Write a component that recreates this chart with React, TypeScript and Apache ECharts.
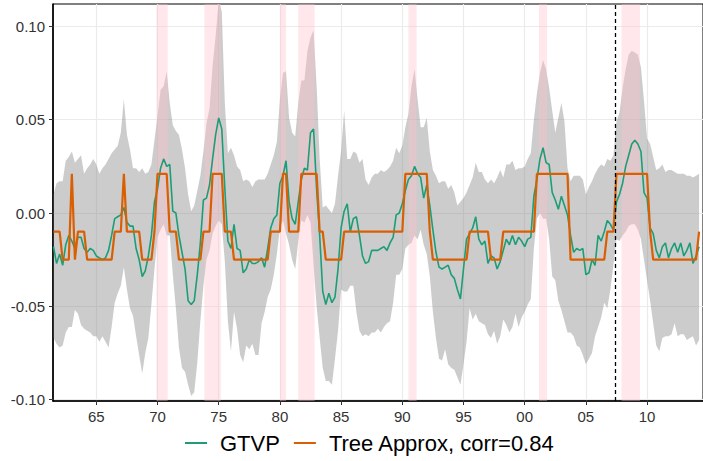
import React, { useEffect, useRef } from "react";
import * as echarts from "echarts";

// Quarterly series, first observation 1961Q3, step one quarter
const START_YEAR = 1961.5;
const STEP = 0.25;

const gtvp = [
  -0.018, -0.027, -0.022, -0.028, -0.017, -0.012, -0.015, -0.019, -0.013, -0.013,
  -0.019, -0.021, -0.019, -0.020, -0.023, -0.024, -0.025, -0.024, -0.020, -0.012,
  -0.003, -0.002, -0.001, 0.003, -0.005, -0.007, -0.007, -0.019, -0.025, -0.034,
  -0.031, -0.023, -0.012, 0.006, 0.013, 0.024, 0.029, 0.025, 0.026, 0.001,
  0.000, -0.012, -0.021, -0.030, -0.047, -0.049, -0.047, -0.033, -0.016, 0.007,
  0.008, 0.015, 0.029, 0.042, 0.051, 0.045, 0.013, -0.015, -0.019, -0.006,
  -0.019, -0.020, -0.032, -0.030, -0.025, -0.027, -0.027, -0.026, -0.024, -0.029,
  -0.019, -0.008, -0.003, -0.001, 0.016, 0.020, 0.028, 0.006, -0.003, -0.006,
  0.006, 0.018, 0.024, 0.023, 0.043, 0.045, 0.013, -0.012, -0.042, -0.049,
  -0.043, -0.048, -0.045, -0.030, -0.008, 0.001, 0.005, -0.010, -0.003, -0.002,
  -0.012, -0.023, -0.027, -0.026, -0.020, -0.020, -0.020, -0.019, -0.018, -0.020,
  -0.016, -0.013, -0.001, 0.000, 0.005, 0.012, 0.018, 0.020, 0.025, 0.021,
  0.019, 0.008, 0.015, 0.004, -0.009, -0.021, -0.029, -0.030, -0.029, -0.028,
  -0.033, -0.035, -0.041, -0.046, -0.030, -0.014, -0.011, -0.008, -0.002, -0.014,
  -0.017, -0.015, -0.027, -0.023, -0.024, -0.030, -0.026, -0.020, -0.014, -0.017,
  -0.012, -0.017, -0.013, -0.015, -0.018, -0.014, -0.013, 0.009, 0.018, 0.029,
  0.035, 0.027, 0.026, 0.011, 0.007, 0.002, 0.009, 0.004, -0.001, -0.012,
  -0.021, -0.019, -0.020, -0.019, -0.033, -0.032, -0.025, -0.028, -0.012, -0.015,
  -0.010, -0.004, -0.006, -0.009, 0.006, 0.010, 0.016, 0.025, 0.031, 0.037,
  0.039, 0.037, 0.033, 0.011, 0.008, -0.008, -0.011, -0.020, -0.024, -0.018,
  -0.016, -0.024, -0.019, -0.016, -0.021, -0.016, -0.023, -0.020, -0.016, -0.027,
  -0.023, -0.018,
];

const treeApprox = [
  -0.010, -0.010, -0.010, -0.025, -0.025, -0.025, 0.021, -0.025, -0.010, -0.010,
  -0.010, -0.025, -0.025, -0.025, -0.025, -0.025, -0.025, -0.025, -0.025, -0.025,
  -0.010, -0.010, -0.010, 0.021, -0.010, -0.010, -0.010, -0.010, -0.010, -0.025,
  -0.025, -0.025, -0.025, -0.010, 0.021, 0.021, 0.021, 0.021, -0.010, -0.010,
  -0.010, -0.025, -0.025, -0.025, -0.025, -0.025, -0.025, -0.025, -0.025, -0.010,
  -0.010, -0.010, 0.021, 0.021, 0.021, 0.021, -0.010, -0.010, -0.010, -0.025,
  -0.025, -0.025, -0.025, -0.025, -0.025, -0.025, -0.025, -0.025, -0.025, -0.025,
  -0.025, -0.010, -0.010, -0.010, -0.010, 0.021, 0.021, -0.010, -0.010, -0.010,
  -0.010, 0.021, 0.021, 0.021, 0.021, 0.021, 0.021, -0.010, -0.010, -0.025,
  -0.025, -0.025, -0.025, -0.025, -0.025, -0.010, -0.010, -0.010, -0.010, -0.010,
  -0.010, -0.010, -0.010, -0.010, -0.010, -0.010, -0.010, -0.010, -0.010, -0.010,
  -0.010, -0.010, -0.010, -0.010, -0.010, 0.021, 0.021, 0.021, 0.021, 0.021,
  0.021, 0.021, 0.021, -0.010, -0.025, -0.025, -0.025, -0.025, -0.025, -0.025,
  -0.025, -0.025, -0.025, -0.025, -0.025, -0.025, -0.010, -0.010, -0.010, -0.010,
  -0.010, -0.010, -0.010, -0.025, -0.025, -0.025, -0.025, -0.010, -0.010, -0.010,
  -0.010, -0.010, -0.010, -0.010, -0.010, -0.010, -0.010, -0.010, 0.021, 0.021,
  0.021, 0.021, 0.021, 0.021, 0.021, 0.021, 0.021, 0.021, 0.021, -0.025,
  -0.025, -0.025, -0.025, -0.025, -0.025, -0.025, -0.025, -0.025, -0.025, -0.025,
  -0.025, -0.010, -0.010, -0.010, 0.021, 0.021, 0.021, 0.021, 0.021, 0.021,
  0.021, 0.021, 0.021, 0.021, 0.021, -0.010, -0.025, -0.025, -0.025, -0.025,
  -0.025, -0.025, -0.025, -0.025, -0.025, -0.025, -0.025, -0.025, -0.025, -0.025,
  -0.025, -0.010,
];

const bandUpper = [
  0.010, 0.016, 0.017, 0.017, 0.028, 0.030, 0.033, 0.027, 0.029, 0.031,
  0.021, 0.024, 0.026, 0.029, 0.026, 0.021, 0.024, 0.026, 0.029, 0.032,
  0.034, 0.036, 0.043, 0.061, 0.042, 0.034, 0.024, 0.024, 0.022, 0.024,
  0.021, 0.022, 0.026, 0.039, 0.052, 0.066, 0.068, 0.076, 0.059, 0.047,
  0.044, 0.042, 0.034, 0.024, 0.010, 0.001, 0.004, 0.012, 0.020, 0.033,
  0.048, 0.056, 0.079, 0.095, 0.114, 0.108, 0.059, 0.032, 0.035, 0.031,
  0.025, 0.023, 0.017, 0.018, 0.017, 0.014, 0.017, 0.018, 0.018, 0.018,
  0.021, 0.026, 0.031, 0.038, 0.061, 0.075, 0.076, 0.051, 0.043, 0.041,
  0.059, 0.071, 0.071, 0.087, 0.094, 0.098, 0.068, 0.029, 0.003, 0.004,
  0.002, 0.000, 0.005, 0.020, 0.033, 0.055, 0.029, 0.029, 0.033, 0.032,
  0.027, 0.029, 0.018, 0.015, 0.019, 0.021, 0.021, 0.023, 0.022, 0.023,
  0.025, 0.028, 0.035, 0.032, 0.036, 0.046, 0.053, 0.068, 0.077, 0.061,
  0.046, 0.046, 0.051, 0.033, 0.023, 0.020, 0.016, 0.017, 0.017, 0.013,
  0.015, 0.011, 0.004, 0.006, 0.008, 0.011, 0.015, 0.019, 0.027, 0.022,
  0.022, 0.018, 0.016, 0.018, 0.016, 0.019, 0.023, 0.019, 0.026, 0.026,
  0.028, 0.023, 0.024, 0.024, 0.025, 0.029, 0.032, 0.050, 0.064, 0.075,
  0.082, 0.077, 0.067, 0.055, 0.043, 0.051, 0.059, 0.049, 0.024, 0.017,
  0.020, 0.020, 0.020, 0.018, 0.010, 0.014, 0.017, 0.021, 0.024, 0.026,
  0.025, 0.029, 0.028, 0.031, 0.049, 0.054, 0.067, 0.077, 0.085, 0.087,
  0.086, 0.085, 0.078, 0.060, 0.040, 0.037, 0.030, 0.023, 0.024, 0.026,
  0.022, 0.023, 0.023, 0.022, 0.021, 0.021, 0.021, 0.020, 0.020, 0.019,
  0.020, 0.021,
];

const bandLower = [
  -0.067, -0.070, -0.072, -0.071, -0.064, -0.061, -0.061, -0.052, -0.054, -0.060,
  -0.062, -0.063, -0.064, -0.066, -0.066, -0.069, -0.066, -0.069, -0.072, -0.061,
  -0.048, -0.043, -0.039, -0.029, -0.041, -0.051, -0.055, -0.066, -0.076, -0.086,
  -0.075, -0.067, -0.049, -0.030, -0.013, -0.009, -0.006, -0.012, -0.012, -0.033,
  -0.051, -0.072, -0.083, -0.085, -0.092, -0.098, -0.096, -0.080, -0.058, -0.039,
  -0.025, -0.020, -0.011, -0.007, -0.004, -0.006, -0.026, -0.058, -0.074, -0.053,
  -0.062, -0.076, -0.080, -0.071, -0.073, -0.070, -0.076, -0.076, -0.059, -0.053,
  -0.045, -0.041, -0.033, -0.022, -0.008, -0.004, -0.011, -0.017, -0.025, -0.030,
  -0.015, -0.004, -0.005, -0.001, -0.005, -0.028, -0.050, -0.067, -0.083, -0.090,
  -0.090, -0.092, -0.078, -0.063, -0.041, -0.042, -0.042, -0.039, -0.039, -0.053,
  -0.063, -0.066, -0.065, -0.066, -0.064, -0.064, -0.062, -0.064, -0.061, -0.059,
  -0.058, -0.048, -0.033, -0.033, -0.030, -0.019, -0.017, -0.016, -0.012, -0.014,
  -0.009, -0.017, -0.022, -0.034, -0.053, -0.067, -0.078, -0.079, -0.073, -0.081,
  -0.083, -0.084, -0.088, -0.092, -0.081, -0.069, -0.051, -0.057, -0.054, -0.058,
  -0.059, -0.060, -0.065, -0.067, -0.063, -0.070, -0.066, -0.057, -0.060, -0.064,
  -0.061, -0.054, -0.061, -0.056, -0.053, -0.049, -0.046, -0.019, -0.003, 0.000,
  -0.003, -0.003, -0.014, -0.034, -0.036, -0.047, -0.052, -0.058, -0.064, -0.064,
  -0.066, -0.071, -0.072, -0.076, -0.081, -0.078, -0.075, -0.066, -0.061, -0.056,
  -0.048, -0.051, -0.041, -0.028, -0.014, -0.015, -0.012, -0.010, -0.007, -0.006,
  -0.006, -0.009, -0.014, -0.025, -0.036, -0.047, -0.059, -0.071, -0.074, -0.067,
  -0.066, -0.066, -0.065, -0.059, -0.066, -0.065, -0.065, -0.068, -0.067, -0.066,
  -0.071, -0.068,
];

// NBER recessions (start, end) in fractional years
const recessionStarts = [1969.92, 1973.83, 1980.0, 1981.5, 1990.5, 2001.17, 2007.92];
const recessionEnds = [1970.83, 1975.17, 1980.5, 1982.83, 1991.17, 2001.83, 2009.42];
const breakYear = 2007.4;

const xTickValues = [1965, 1970, 1975, 1980, 1985, 1990, 1995, 2000, 2005, 2010];
const yTickValues = [-0.1, -0.05, 0, 0.05, 0.1];

const seriesNames = ["GTVP", "Tree Approx, corr=0.84"];

const FONT = "'Liberation Sans', Arial, Helvetica, sans-serif";

export default function App() {
  const ref = useRef<HTMLDivElement>(null);

  useEffect(() => {
    document.body.style.margin = "0";
    if (!ref.current) return;
    const chart = echarts.init(ref.current, undefined, { renderer: "svg" });

    const years = gtvp.map((_, i) => START_YEAR + i * STEP);
    const pair = (arr: number[]) => arr.map((v, i) => [years[i], v]);

    const option: any = {
      animation: false,
      backgroundColor: "#ffffff",
      grid: {
        left: 53,
        right: -5,
        top: 4,
        bottom: 60,
        show: true,
        borderColor: "#000000",
        borderWidth: 1,
        backgroundColor: "transparent",
      },
      xAxis: {
        type: "value",
        min: 1961.46,
        max: 2014.57,
        axisLine: { show: true, onZero: false, lineStyle: { color: "#000000", width: 1.6 } },
        axisTick: { show: true, customValues: xTickValues, length: 4, lineStyle: { color: "#333333", width: 1 } },
        axisLabel: {
          customValues: xTickValues,
          formatter: (v: number) => String(Math.round(v) % 100).padStart(2, "0"),
          fontSize: 15,
          color: "#333333",
          fontFamily: FONT,
          margin: 8,
        },
        splitLine: { show: true, lineStyle: { color: "#ebebeb", width: 1.2 } },
      },
      yAxis: {
        type: "value",
        min: -0.1007,
        max: 0.112,
        axisLine: { show: true, onZero: false, lineStyle: { color: "#000000", width: 1.6 } },
        axisTick: { show: true, customValues: yTickValues, length: 4, lineStyle: { color: "#333333", width: 1 } },
        axisLabel: {
          customValues: yTickValues,
          formatter: (v: number) => v.toFixed(2),
          fontSize: 15,
          color: "#333333",
          fontFamily: FONT,
          margin: 8,
        },
        splitLine: { show: true, lineStyle: { color: "#ebebeb", width: 1.2 } },
      },
      legend: {
        data: seriesNames,
        left: 185,
        top: 432,
        padding: 0,
        icon: "rect",
        itemWidth: 22,
        itemHeight: 2,
        itemGap: 14,
        textStyle: { fontSize: 22, color: "#000000", fontFamily: FONT, padding: [0, 0, 0, 8] },
      },
      series: [
        {
          name: "band",
          type: "custom",
          silent: true,
          clip: true,
          z: 1,
          data: [[years[0], bandLower[0]]],
          encode: { x: 0, y: 1 },
          renderItem: (params: any, api: any) => {
            if (params.dataIndex !== 0) return null;
            const pts: number[][] = [];
            for (let i = 0; i < years.length; i++) pts.push(api.coord([years[i], bandUpper[i]]));
            for (let i = years.length - 1; i >= 0; i--) pts.push(api.coord([years[i], bandLower[i]]));
            return {
              type: "polygon",
              shape: { points: pts },
              style: { fill: "rgba(127,127,127,0.4)", stroke: "none" },
            };
          },
        },
        {
          name: seriesNames[0],
          type: "line",
          data: pair(gtvp),
          symbol: "none",
          color: "#1b9e77",
          itemStyle: { color: "#1b9e77" },
          lineStyle: { color: "#1b9e77", width: 1.6 },
          z: 3,
          markArea: {
            silent: true,
            z: 2,
            itemStyle: { color: "rgba(255,192,203,0.38)", borderWidth: 0 },
            label: { show: false },
            data: recessionStarts.map((s, i) => [{ xAxis: s }, { xAxis: recessionEnds[i] }]),
          },
        },
        {
          name: seriesNames[1],
          type: "line",
          data: pair(treeApprox),
          symbol: "none",
          color: "#d95f02",
          itemStyle: { color: "#d95f02" },
          lineStyle: { color: "#d95f02", width: 2.2 },
          z: 3,
          markLine: {
            silent: true,
            z: 4,
            symbol: ["none", "none"],
            label: { show: false },
            lineStyle: { color: "#000000", type: [4, 3], width: 1.3 },
            data: [{ xAxis: breakYear }],
          },
        },
      ],
    };

    chart.setOption(option);
    return () => chart.dispose();
  }, []);

  return (
    <div
      ref={ref}
      style={{ position: "fixed", left: 0, top: 0, width: 703, height: 461, background: "#fff" }}
    />
  );
}
